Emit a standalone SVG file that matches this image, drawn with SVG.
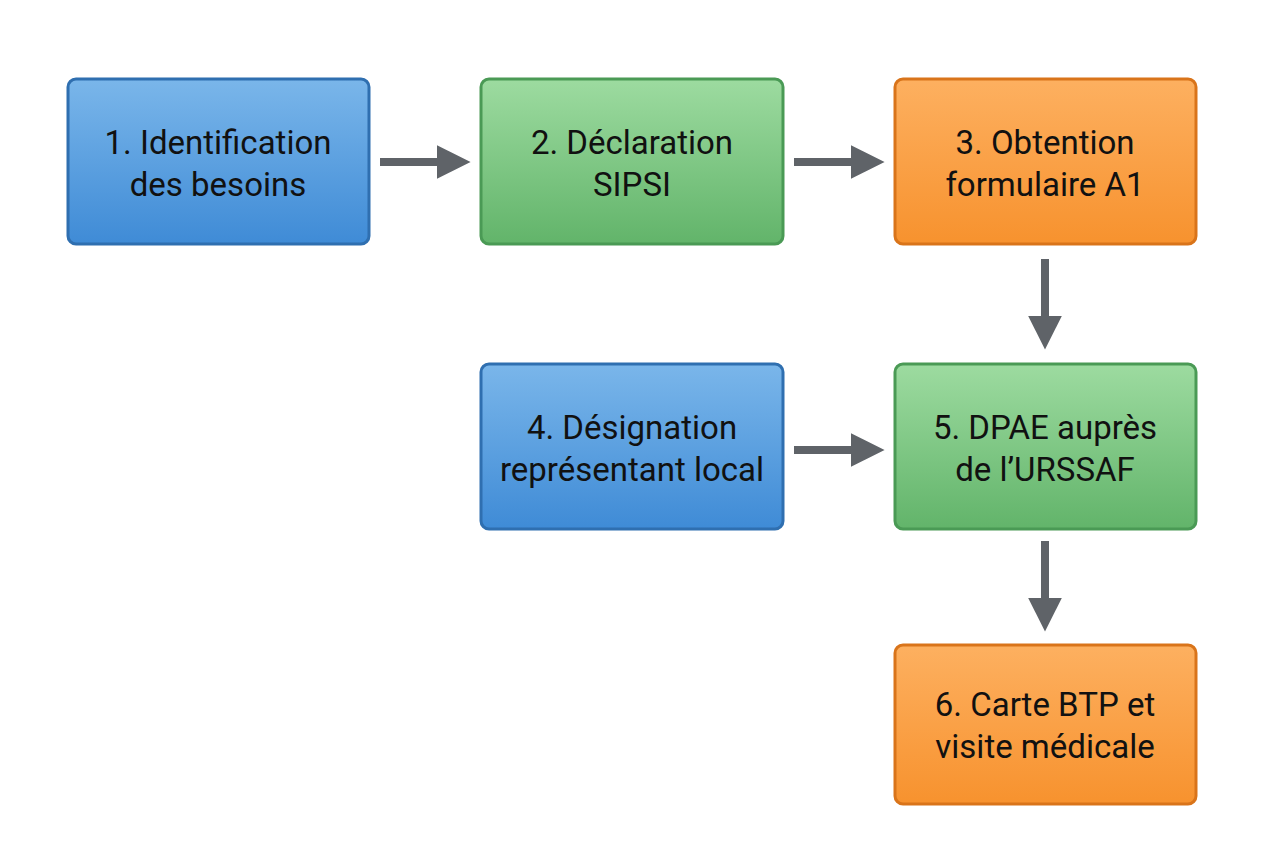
<svg xmlns="http://www.w3.org/2000/svg" width="1264" height="848" viewBox="0 0 1264 848">
<style>
.box{stroke-width:3}
.b{fill:url(#gb);stroke:#2f6fb0}
.g{fill:url(#gg);stroke:#4a9a55}
.o{fill:url(#go);stroke:#d9741a}
text{font-family:Roboto,"Liberation Sans",sans-serif;font-size:33px;fill:#111;text-anchor:middle}
.c line{stroke:#5f6368;stroke-width:8}
</style>
<defs>
<linearGradient id="gb" x1="0" y1="0" x2="0" y2="1"><stop offset="0" stop-color="#7ab6ea"/><stop offset="1" stop-color="#3f8bd6"/></linearGradient>
<linearGradient id="gg" x1="0" y1="0" x2="0" y2="1"><stop offset="0" stop-color="#9ddba0"/><stop offset="1" stop-color="#62b46a"/></linearGradient>
<linearGradient id="go" x1="0" y1="0" x2="0" y2="1"><stop offset="0" stop-color="#fdb060"/><stop offset="1" stop-color="#f7922e"/></linearGradient>
<marker id="ah" viewBox="0 0 10 10" refX="0" refY="5" markerWidth="4.2" markerHeight="5" markerUnits="strokeWidth" orient="auto"><path d="M0,0L10,5L0,10z" fill="#5f6368"/></marker>
</defs>
<g id="n1"><rect class="box b" x="68" y="79" width="301" height="165" rx="8"/><text x="218" y="154">1. Identification</text><text x="218" y="196">des besoins</text></g>
<g id="n2"><rect class="box g" x="481" y="79" width="302" height="165" rx="8"/><text x="632" y="154">2. Déclaration</text><text x="632" y="196">SIPSI</text></g>
<g id="n3"><rect class="box o" x="895" y="79" width="301" height="165" rx="8"/><text x="1045" y="154">3. Obtention</text><text x="1045" y="196">formulaire A1</text></g>
<g id="n4"><rect class="box b" x="481" y="364" width="302" height="165" rx="8"/><text x="632" y="439">4. Désignation</text><text x="632" y="481">représentant local</text></g>
<g id="n5"><rect class="box g" x="895" y="364" width="301" height="165" rx="8"/><text x="1045" y="439">5. DPAE auprès</text><text x="1045" y="481">de l’URSSAF</text></g>
<g id="n6"><rect class="box o" x="895" y="645" width="301" height="159" rx="8"/><text x="1045" y="716">6. Carte BTP et</text><text x="1045" y="758">visite médicale</text></g>
<g class="c" id="connectors">
<line x1="380" y1="162" x2="437" y2="162" marker-end="url(#ah)"/>
<line x1="794" y1="162" x2="851" y2="162" marker-end="url(#ah)"/>
<line x1="1045" y1="259" x2="1045" y2="316" marker-end="url(#ah)"/>
<line x1="794" y1="450" x2="851" y2="450" marker-end="url(#ah)"/>
<line x1="1045" y1="541" x2="1045" y2="598" marker-end="url(#ah)"/>
</g>
</svg>
